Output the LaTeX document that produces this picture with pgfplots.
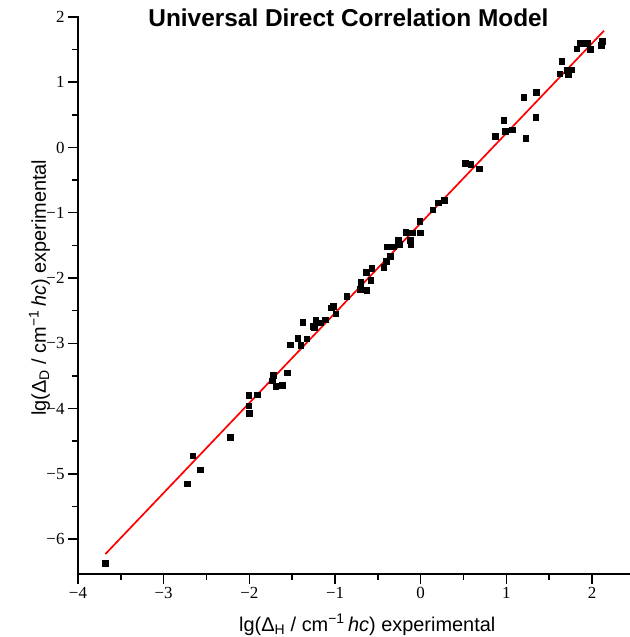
\documentclass[border=0pt]{standalone}
\usepackage{pgfplots}
\pgfplotsset{compat=1.18}
\usepackage{fontspec}
\setmainfont{Liberation Sans}
\newfontfamily\serifnum{Liberation Serif}
\begin{document}
\begin{tikzpicture}
\begin{axis}[
  scale only axis,
  width=552bp, height=558bp,
  xmin=-4, xmax=2.443,
  ymin=-6.536, ymax=2.015,
  axis lines=left,
  axis line style={-, line width=1.8pt},
  tick align=outside,
  major tick length=10bp,
  minor tick length=6bp,
  every tick/.style={line width=1.5pt, black},
  xtick={-4,-3,-2,-1,0,1,2},
  xticklabels={−4,−3,−2,−1,0,1,2},
  ytick={-6,-5,-4,-3,-2,-1,0,1,2},
  yticklabels={−6,−5,−4,−3,−2,−1,0,1,2},
  minor tick num=1,
  tick label style={font=\serifnum\fontsize{17}{20}\selectfont},
  title={\fontsize{24.5}{28}\selectfont\bfseries Universal Direct Correlation Model},
  title style={at={(axis description cs:0.49,1)}, anchor=base, yshift=-16bp, inner sep=0pt},
  xlabel={\fontsize{20}{24}\selectfont lg(Δ\textsubscript{H} / cm\textsuperscript{−1}\,\textit{hc}) experimental},
  ylabel={\fontsize{20}{24}\selectfont lg(Δ\textsubscript{D} / cm\textsuperscript{−1}\,\textit{hc}) experimental},
  xlabel style={at={(axis description cs:0.524,0)}, anchor=base, yshift=-57bp, inner sep=0pt},
  ylabel style={at={(axis description cs:0,0.513)}, anchor=base, rotate=0, yshift=32bp, inner sep=0pt},
  clip=false,
]
\addplot[red, line width=1.7pt] coordinates {(-3.68,-6.23) (2.14,1.79)};
\addplot[only marks, mark=square*, mark size=2.8pt, black] coordinates {
(-3.68,-6.37) (-2.725,-5.15) (-2.66,-4.72) (-2.575,-4.94) (-2.226,-4.44)
(-2.004,-4.07) (-2.006,-3.96) (-2.01,-3.80) (-1.905,-3.79) (-1.724,-3.49)
(-1.731,-3.575) (-1.694,-3.655) (-1.619,-3.645) (-1.556,-3.45) (-1.526,-3.02)
(-1.437,-2.92) (-1.402,-3.03) (-1.329,-2.93) (-1.376,-2.674) (-1.256,-2.736)
(-1.24,-2.75) (-1.225,-2.65) (-1.171,-2.685) (-1.113,-2.64) (-1.047,-2.455)
(-1.02,-2.43) (-0.993,-2.547) (-0.865,-2.28) (-0.705,-2.17) (-0.698,-2.066)
(-0.628,-2.184) (-0.635,-1.908) (-0.585,-2.035) (-0.573,-1.85) (-0.433,-1.836)
(-0.40,-1.745) (-0.393,-1.52) (-0.358,-1.663) (-0.323,-1.52) (-0.26,-1.42)
(-0.253,-1.483) (-0.175,-1.295) (-0.12,-1.42) (-0.117,-1.48) (-0.10,-1.305)
(-0.008,-1.305) (-0.01,-1.13) (0.142,-0.955) (0.205,-0.846) (0.275,-0.805)
(0.518,-0.243) (0.584,-0.253) (0.685,-0.325) (0.868,0.176) (0.969,0.417)
(0.985,0.248) (1.066,0.273) (1.226,0.146) (1.342,0.463) (1.20,0.77)
(1.35,0.85) (1.646,1.321) (1.623,1.131) (1.724,1.122) (1.712,1.183)
(1.754,1.193) (1.821,1.514) (1.856,1.597) (1.93,1.597) (1.95,1.60)
(1.98,1.505) (2.105,1.571) (2.121,1.628)
};
\end{axis}
\pgfresetboundingbox
\useasboundingbox (current axis.south west) ++(-78bp,-63bp) rectangle ([yshift=16bp]current axis.north east);
\end{tikzpicture}
\end{document}
